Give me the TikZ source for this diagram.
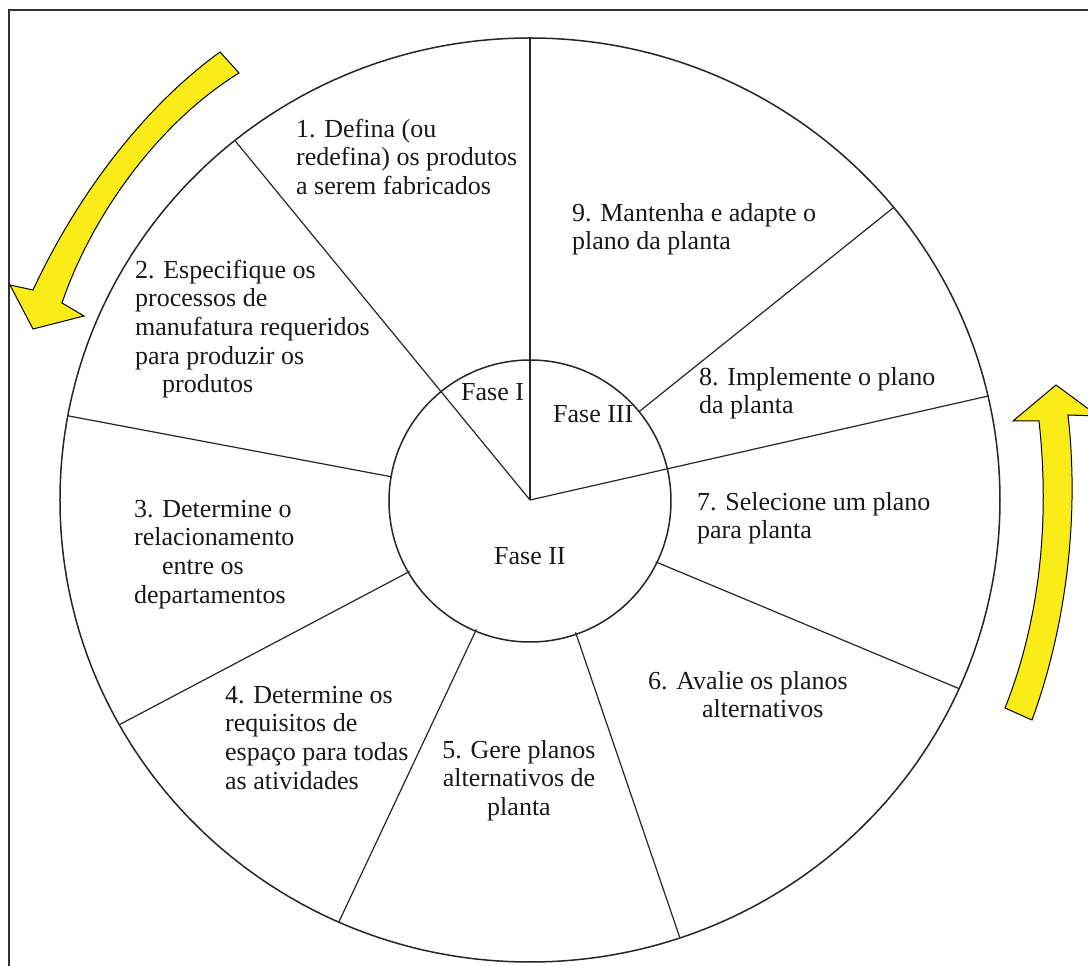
\documentclass[tikz,border=0pt]{standalone}
\usepackage{fontspec}
\setmainfont{Liberation Serif}
\definecolor{arrowyellow}{RGB}{250,236,24}
\begin{document}
\begin{tikzpicture}[x=1pt,y=1pt,
  ring/.style={line width=1.5pt, draw=black!85},
  spoke/.style={line width=1.2pt, draw=black!85},
  stage/.style={inner sep=0pt, font=\fontsize{26}{28.6}\selectfont, align=left, anchor=north west, text=black!90},
  phase/.style={inner sep=0pt, font=\fontsize{26}{28.6}\selectfont, anchor=base west, text=black!90},
  cyclearrow/.style={fill=arrowyellow, draw=black, line width=1pt, line join=miter}]
\useasboundingbox (-530,-466) rectangle (558,500);
\clip (-530,-466) rectangle (558,500);
\fill[white] (-530,-466) rectangle (558,500);

% outer frame (runs off the page on the right and at the bottom)
\draw[line width=1.6pt, black!80] (-521,-490) -- (-521,490) -- (580,490);

% hub and rings
\coordinate (hub) at (0,0);
\draw[ring] (0,0) ellipse [x radius=470, y radius=462];
\draw[ring] (0,-1) circle [radius=141];

% spoke end points
\path (90:470 and 462)    coordinate (o91)
      (128.9:470 and 462) coordinate (o12)
      (170.5:140)         coordinate (i23)
      (169.5:470 and 462) coordinate (o23)
      (210.7:140)         coordinate (i34)
      (209.1:470 and 462) coordinate (o34)
      (247.5:140)         coordinate (i45)
      (246:470 and 462)   coordinate (o45)
      (289:140)           coordinate (i56)
      (288.6:470 and 462) coordinate (o56)
      (333.8:140)         coordinate (i67)
      (335.9:470 and 462) coordinate (o67)
      (13:470 and 462)    coordinate (o78)
      (39:140)            coordinate (i89)
      (39.3:470 and 462)  coordinate (o89);

% spokes dividing the nine stages
\draw[spoke] (hub) -- (o91);
\draw[spoke] (hub) -- (o12);
\draw[spoke] (hub) -- (o78);
\draw[spoke] (i23) -- (o23);
\draw[spoke] (i34) -- (o34);
\draw[spoke] (i45) -- (o45);
\draw[spoke] (i56) -- (o56);
\draw[spoke] (i67) -- (o67);
\draw[spoke] (i89) -- (o89);

% stage texts
\node[stage] (s1) at (-234,383) {\strut 1. Defina (ou\\redefina) os produtos\\a serem fabricados};
\node[stage] (s2) at (-395,242) {\strut 2. Especifique os\\processos de\\manufatura requeridos\\para produzir os\\\hspace*{27pt}produtos};
\node[stage] (s3) at (-396,3) {\strut 3. Determine o\\relacionamento\\\hspace*{28pt}entre os\\departamentos};
\node[stage] (s4) at (-305,-183) {\strut 4. Determine os\\requisitos de\\espaço para todas\\as atividades};
\node[stage, align=center, anchor=north] (s5) at (-11,-238) {\strut 5. Gere planos\\alternativos de\\planta};
\node[stage] (s6) at (118,-169) {\strut 6. Avalie os planos\\\hspace*{54pt}alternativos};
\node[stage] (s7) at (167,10) {\strut 7. Selecione um plano\\para planta};
\node[stage] (s8) at (169,135) {\strut 8. Implemente o plano\\da planta};
\node[stage] (s9) at (42,299) {\strut 9. Mantenha e adapte o\\plano da planta};

% phase labels in the hub
\node[phase] (f1) at (-69,99) {Fase I};
\node[phase] (f3) at (23,77) {Fase III};
\node[phase] (f2) at (-36,-65) {Fase II};

% curved yellow arrows showing the direction of the cycle
\draw[cyclearrow] (-310,448) .. controls (-390,390) and (-455,300) .. (-497,210)
  -- (-520,215) -- (-497,171) -- (-446,184) -- (-468,197)
  .. controls (-440,280) and (-375,375) .. (-291,427) -- cycle;
\draw[cyclearrow] (475,-208) .. controls (510,-120) and (520,-20) .. (509,79)
  -- (483,79) -- (526,115) -- (568,84) -- (538,85)
  .. controls (550,-20) and (535,-130) .. (502,-220) -- cycle;
\end{tikzpicture}
\end{document}
